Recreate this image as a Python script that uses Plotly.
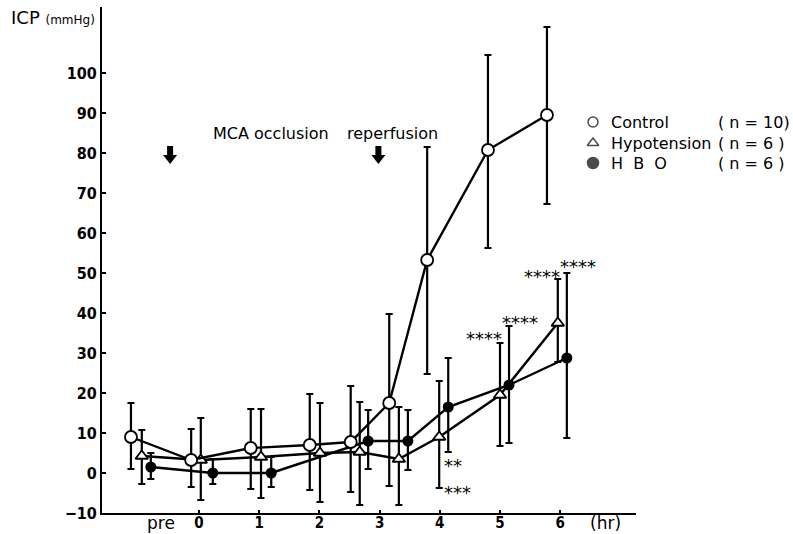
import plotly.graph_objects as go

# ---- data (hours; "pre" plotted left of 0) ----
ctrl_x = [-1.13, -0.13, 0.86, 1.84, 2.52, 3.16, 3.79, 4.80, 5.78]
ctrl_y = [9.0, 3.25, 6.25, 7.0, 7.75, 17.5, 53.25, 80.75, 89.5]
ctrl_hi = [17.5, 11.0, 16.0, 19.75, 21.75, 39.75, 81.5, 104.5, 111.5]
ctrl_lo = [1.0, -3.5, -4.0, -4.25, -4.75, -3.25, 24.75, 56.25, 67.25]

hypo_x = [-0.95, 0.03, 1.03, 2.01, 2.67, 3.32, 3.99, 5.0, 5.96]
hypo_y = [4.25, 3.25, 4.0, 5.0, 5.25, 3.5, 9.0, 19.5, 37.5]
hypo_hi = [10.75, 13.75, 16.0, 17.5, 17.75, 16.5, 23.0, 32.5, 48.5]
hypo_lo = [-2.75, -6.75, -6.25, -7.25, -8.0, -8.0, -3.75, 6.75, 27.75]

hbo_x = [-0.80, 0.23, 1.20, 2.81, 3.47, 4.14, 5.15, 6.11]
hbo_y = [1.5, 0.0, 0.0, 8.0, 8.0, 16.5, 22.0, 28.75]
hbo_hi = [5.0, 3.5, 4.0, 15.75, 15.75, 28.75, 36.75, 50.0]
hbo_lo = [-1.5, -2.75, -3.5, 1.0, 0.75, 5.25, 7.5, 8.75]

x_ticks = [0, 1, 2, 3, 4, 5, 6]
y_ticks = [-10, 0, 10, 20, 30, 40, 50, 60, 70, 80, 90, 100]

# significance marks: (x, y, text)
sig_marks = [
    (4.22, 3.0, "**"),
    (4.30, -3.75, "***"),
    (4.73, 34.75, "****"),
    (5.33, 38.75, "****"),
    (5.70, 50.25, "****"),
    (6.30, 52.75, "****"),
]

# event arrows: (x of arrow in hr, label, label centre in px)
events = [(-0.48, "MCA occlusion", 211), (2.98, "reperfusion", 392)]

legend_rows = [
    ("Control", "( n = 10)"),
    ("Hypotension", "( n = 6 )"),
    ("H  B  O", "( n = 6 )"),
]
legend_symbols = ["circle", "triangle-up", "circle"]
legend_fills = ["white", "white", "black"]

TXT = "DejaVu Sans, Liberation Sans, sans-serif"
NUM = "DejaVu Sans Condensed, DejaVu Sans, sans-serif"

X0, X1 = -1.611, 7.259
Y0, Y1 = -10, 116.5
L, R, T, B = 102, 636, 7, 513  # plot area in px
W, H = 793, 534


def px_to_xp(px):
    return (px - L) / (R - L)


def py_to_yp(py):
    return (B - py) / (B - T)


def err(y, hi, lo):
    return dict(type="data", symmetric=False,
                array=[h - v for h, v in zip(hi, y)],
                arrayminus=[v - l for v, l in zip(y, lo)],
                color="black", thickness=2.2, width=3.5)


fig = go.Figure()

fig.add_trace(go.Scatter(x=hbo_x, y=hbo_y, mode="lines+markers",
                         line=dict(color="black", width=2.4),
                         marker=dict(symbol="circle", size=11, color="black"),
                         error_y=err(hbo_y, hbo_hi, hbo_lo), showlegend=False))
fig.add_trace(go.Scatter(x=hypo_x, y=hypo_y, mode="lines+markers",
                         line=dict(color="black", width=2.4),
                         marker=dict(symbol="triangle-up", size=11, color="white",
                                     line=dict(color="black", width=1.8)),
                         error_y=err(hypo_y, hypo_hi, hypo_lo), showlegend=False))
fig.add_trace(go.Scatter(x=ctrl_x, y=ctrl_y, mode="lines+markers",
                         line=dict(color="black", width=2.4),
                         marker=dict(symbol="circle", size=12, color="white",
                                     line=dict(color="black", width=1.8)),
                         error_y=err(ctrl_y, ctrl_hi, ctrl_lo), showlegend=False))

# manual legend
leg_py = [122, 143, 163]
for (name, n), py in zip(legend_rows, leg_py):
    fig.add_annotation(xref="paper", yref="paper", x=px_to_xp(609), y=py_to_yp(py),
                       text=name, showarrow=False, xanchor="left", yanchor="middle",
                       font=dict(family=TXT, size=16, color="black"))
    fig.add_annotation(xref="paper", yref="paper", x=px_to_xp(716), y=py_to_yp(py),
                       text=n, showarrow=False, xanchor="left", yanchor="middle",
                       font=dict(family=TXT, size=16, color="black"))
sym_x = X0 + px_to_xp(593) * (X1 - X0)
fig.add_trace(go.Scatter(
    x=[sym_x] * 3,
    y=[Y0 + py_to_yp(py) * (Y1 - Y0) for py in leg_py],
    mode="markers", showlegend=False, hoverinfo="skip",
    marker=dict(symbol=legend_symbols, size=[10, 10, 11], color=legend_fills,
                line=dict(color="black", width=1.5))))

for x, y, t in sig_marks:
    fig.add_annotation(x=x, y=y, text=t, showarrow=False, yshift=-4,
                       font=dict(family=TXT, size=18, color="black"))

# block arrows (shaft + head) and labels
dx = (X1 - X0) / (R - L)  # hr per px
for ex, label, cx in events:
    top = Y0 + py_to_yp(146) * (Y1 - Y0)
    mid = Y0 + py_to_yp(155) * (Y1 - Y0)
    tip = Y0 + py_to_yp(164) * (Y1 - Y0)
    fig.add_shape(type="rect", x0=ex - 3 * dx, x1=ex + 3 * dx, y0=mid, y1=top,
                  fillcolor="black", line=dict(width=0))
    fig.add_shape(type="path",
                  path=f"M {ex - 7 * dx} {mid} L {ex + 7 * dx} {mid} L {ex} {tip} Z",
                  fillcolor="black", line=dict(width=0))
    fig.add_annotation(xref="paper", yref="paper", x=px_to_xp(cx), y=py_to_yp(133),
                       text=label, showarrow=False, yanchor="middle",
                       font=dict(family=TXT, size=16, color="black"))

fig.add_annotation(xref="paper", yref="paper", x=px_to_xp(9), y=py_to_yp(18),
                   xanchor="left", yanchor="middle", showarrow=False,
                   text="ICP <span style='font-size:12px'>(mmHg)</span>",
                   font=dict(family=TXT, size=18, color="black"))
fig.add_annotation(xref="paper", yref="paper", x=px_to_xp(145), y=py_to_yp(523),
                   yanchor="middle", showarrow=False,
                   text="pre", font=dict(family=TXT, size=17, color="black"))
fig.add_annotation(xref="paper", yref="paper", x=px_to_xp(623), y=py_to_yp(523),
                   yanchor="middle", showarrow=False, text="(hr)",
                   font=dict(family=TXT, size=17, color="black"))

fig.update_layout(
    width=W, height=H,
    margin=dict(l=L, r=W - R, t=T, b=H - B, autoexpand=False),
    paper_bgcolor="white", plot_bgcolor="white",
    xaxis=dict(range=[X0, X1], tickvals=x_ticks, ticktext=[str(v) for v in x_ticks],
               automargin=False, ticklabelstandoff=-5,
               showgrid=False, zeroline=False, showline=True, linecolor="black",
               linewidth=2, ticks="inside", ticklen=3, tickwidth=2, tickcolor="black",
               tickfont=dict(family=NUM, size=15, color="black", weight="bold")),
    yaxis=dict(range=[Y0, Y1], tickvals=y_ticks,
               ticktext=["\u221210" if v < 0 else str(v) for v in y_ticks],
               automargin=False,
               showgrid=False, zeroline=False, showline=True, linecolor="black",
               linewidth=2, ticks="inside", ticklen=4, tickwidth=2, tickcolor="black",
               tickfont=dict(family=NUM, size=16, color="black", weight="bold")),
)

fig.write_html("out.html", config={"displayModeBar": False},
               post_script="document.body.style.margin='0';document.body.style.overflow='hidden';")
